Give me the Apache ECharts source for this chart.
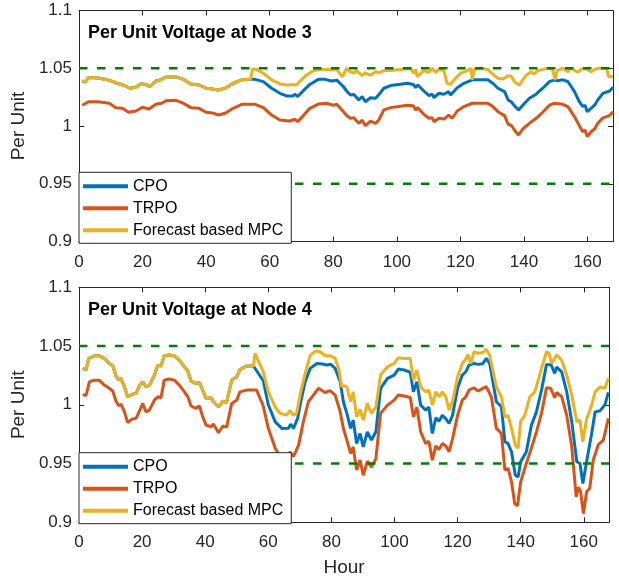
<!DOCTYPE html>
<html><head><meta charset="utf-8">
<script src="https://cdn.jsdelivr.net/npm/echarts@6/dist/echarts.min.js"></script>
<style>html,body{margin:0;padding:0;background:#fff}#c{width:619px;height:580px}</style>
</head><body><div id="c"></div><script>
// ---------- data ----------
const seriesNames = ['CPO', 'TRPO', 'Forecast based MPC'];
const plotTitles = ['Per Unit Voltage at Node 3', 'Per Unit Voltage at Node 4'];
const xTicks = [0, 20, 40, 60, 80, 100, 120, 140, 160];
const yTicks = [0.9, 0.95, 1, 1.05, 1.1];
const limitHours = [0, 168];
const upperLimit = 1.05;
const lowerLimit = 0.95;

const node3CPO = [[1,1.039],[2,1.038],[3,1.042],[6,1.0415],[9,1.040],[10,1.039],[12,1.037],[14,1.0355],[16,1.0327],[18,1.0338],[19.5,1.0367],[21,1.036],[22.3,1.034],[24.2,1.039],[25.8,1.040],[27.4,1.0425],[30.5,1.0425],[32.6,1.0407],[35.2,1.0364],[37.8,1.0355],[40,1.0327],[42,1.032],[43.8,1.0312],[46,1.0327],[48.5,1.037],[51.2,1.040],[54,1.0404],[55.4,1.0404],[58,1.0384],[60.6,1.0327],[63.2,1.0283],[65.3,1.026],[67.2,1.026],[68,1.0275],[68.8,1.0255],[70.6,1.0306],[72.6,1.036],[75.3,1.0404],[77.4,1.0404],[79.5,1.039],[81.1,1.0397],[83.2,1.034],[84.2,1.0303],[85.4,1.0269],[86.5,1.0272],[88,1.0225],[89.1,1.0254],[90.1,1.021],[91.7,1.0245],[93.3,1.024],[94.3,1.027],[95.9,1.0327],[98,1.035],[100.6,1.036],[103.3,1.037],[105.2,1.036],[105.9,1.0332],[106.6,1.0355],[108.5,1.0303],[110.1,1.0263],[111.1,1.0275],[111.7,1.0245],[113.2,1.0283],[114.8,1.0275],[116.3,1.0297],[116.9,1.0269],[119,1.0332],[121.1,1.037],[123.7,1.040],[126.3,1.040],[128.6,1.040],[130.2,1.037],[131.8,1.0327],[133.9,1.0297],[135,1.0225],[136,1.021],[137.2,1.0168],[138.3,1.0139],[139.6,1.018],[141.7,1.024],[143.8,1.0275],[145.9,1.0327],[148,1.0384],[149.6,1.040],[150.6,1.0392],[152.2,1.040],[153.8,1.0385],[155.9,1.0297],[157.4,1.021],[158.5,1.0168],[159.2,1.018],[159.9,1.0124],[161.1,1.0153],[162.2,1.018],[163.2,1.0225],[164.8,1.0283],[166.9,1.0303],[168,1.0335]];

const node3TRPO = [[1,1.018],[3,1.021],[6,1.021],[9.5,1.0197],[11.6,1.0159],[13.7,1.0153],[15.6,1.0119],[17.9,1.013],[20,1.0162],[22,1.0147],[24.2,1.0188],[26,1.0197],[27.4,1.0219],[30.5,1.0222],[32.6,1.020],[35.2,1.0159],[37.8,1.0153],[40,1.0119],[42,1.0113],[43.8,1.0095],[46,1.011],[48.5,1.0153],[51.2,1.0188],[55.4,1.0188],[58,1.0159],[60.6,1.0095],[63.2,1.0052],[66.3,1.0043],[68,1.0058],[68.8,1.0038],[70.6,1.009],[72.6,1.0153],[75.3,1.019],[77.9,1.0197],[80,1.018],[81.1,1.0188],[83.2,1.0124],[84.2,1.009],[85.4,1.0067],[86.5,1.0072],[88,1.0023],[89.1,1.005],[90.1,1.0003],[91.7,1.0043],[93.3,1.0023],[94.3,1.0052],[95.9,1.0139],[98,1.0159],[100.6,1.0168],[103.3,1.018],[105.2,1.0175],[105.9,1.0139],[106.6,1.0159],[108.5,1.0101],[110.1,1.0067],[111.1,1.0072],[111.7,1.0037],[113.2,1.0067],[114.8,1.006],[116.3,1.0095],[117.4,1.0067],[119,1.013],[121.1,1.0168],[123.7,1.0197],[126.3,1.0197],[128.6,1.0197],[130.2,1.0168],[131.8,1.0124],[133.9,1.009],[135,1.0015],[136,1.0005],[137.2,0.9957],[138.3,0.9922],[139.6,0.9974],[141.7,1.0023],[143.8,1.0067],[145.9,1.0119],[148,1.018],[149.6,1.0197],[152.2,1.0188],[153.8,1.0168],[155.9,1.008],[157.4,1.0003],[158.5,0.995],[159.2,0.9965],[159.9,0.9908],[161.1,0.995],[162.2,0.9974],[163.2,1.0023],[164.8,1.007],[166.9,1.009],[168,1.0124]];

const node3MPC = [[1,1.039],[2,1.038],[3,1.042],[6,1.0415],[9,1.040],[10,1.039],[12,1.037],[14,1.0355],[16,1.0327],[18,1.0338],[19.5,1.0367],[21,1.036],[22.3,1.034],[24.2,1.039],[25.8,1.040],[27.4,1.0425],[30.5,1.0425],[32.6,1.0407],[35.2,1.0364],[37.8,1.0355],[40,1.0327],[42,1.032],[43.8,1.0312],[46,1.0327],[48.5,1.037],[51.2,1.040],[54,1.0404],[54.6,1.0494],[55.9,1.049],[58,1.0457],[60.6,1.040],[63.2,1.0364],[65.3,1.0355],[67.2,1.036],[68.3,1.0355],[70,1.040],[71.6,1.0442],[73.7,1.0477],[75.8,1.049],[79,1.049],[81.1,1.0488],[82.9,1.0427],[84.2,1.050],[85,1.0475],[86.5,1.0457],[87.3,1.048],[89.1,1.0436],[90,1.046],[91.7,1.044],[93.3,1.047],[94.3,1.046],[95.9,1.048],[98,1.048],[101.2,1.049],[104.3,1.050],[105.3,1.0457],[105.9,1.049],[106.4,1.0427],[108.5,1.048],[110,1.0465],[111.1,1.050],[112.2,1.0465],[113.2,1.049],[114.8,1.048],[115.8,1.037],[116.9,1.036],[118.4,1.0413],[120.1,1.0457],[122.2,1.048],[123.3,1.050],[123.7,1.040],[124.4,1.049],[126.3,1.050],[128.6,1.049],[130.2,1.0448],[131.8,1.0413],[133.4,1.0407],[135,1.0436],[136,1.043],[137.2,1.0378],[138.6,1.0355],[139.6,1.040],[140.6,1.0436],[142.2,1.047],[143.2,1.045],[144.3,1.048],[146,1.049],[147.5,1.050],[149,1.049],[149.8,1.040],[150.4,1.048],[152.2,1.050],[153.8,1.047],[154.7,1.050],[156,1.048],[157,1.0465],[157.9,1.049],[159,1.050],[161.1,1.047],[162.2,1.049],[163.5,1.050],[166,1.050],[166.6,1.0427],[168,1.043]];

const node4CPO = [[1.2,1.031],[2.2,1.0296],[3.1,1.0395],[4.9,1.0417],[6.4,1.0417],[8,1.0395],[9.6,1.0352],[10.7,1.0332],[11.7,1.0247],[12.6,1.021],[13.3,1.0225],[14.4,1.0153],[15.4,1.0068],[16.8,1.0089],[18.1,1.0098],[19.3,1.0168],[20.2,1.0196],[21.2,1.0153],[22.3,1.0165],[23.9,1.0253],[25,1.0338],[26,1.033],[27,1.0417],[28.6,1.0423],[30.2,1.0417],[31.8,1.038],[33.4,1.0324],[34.5,1.0287],[35.5,1.0202],[36.9,1.0182],[38.2,1.019],[39.2,1.0125],[40.3,1.0054],[41.9,1.006],[42.6,1.0026],[44.2,0.9983],[45.6,1.003],[46.8,1.002],[48.4,1.021],[50,1.0239],[51,1.030],[53.2,1.033],[55.3,1.033],[55.8,1.033],[58.4,1.0205],[60,1.0],[62.2,0.9855],[64.3,0.9799],[66.4,0.98],[67.1,0.9836],[68,0.98],[69.3,0.9884],[70.3,1.0026],[71.7,1.0196],[73.3,1.031],[75.4,1.0352],[77,1.0348],[78.6,1.0338],[79.8,1.0345],[81.2,1.031],[82.8,1.0196],[83.8,1.0026],[84.9,0.9927],[86.1,0.9799],[86.9,0.987],[88,0.967],[89.1,0.9756],[90.1,0.9642],[91.4,0.977],[92.7,0.970],[94.1,0.977],[95.6,1.014],[97.8,1.0225],[99.9,1.0253],[101.2,1.0304],[103.1,1.0296],[105,1.0276],[106,1.011],[107.1,1.0196],[108.3,0.9997],[109.9,0.9955],[110.9,0.998],[112,0.9756],[113.1,0.989],[114.1,0.986],[115.2,0.991],[116.3,0.988],[117.3,0.9841],[118.4,0.991],[120,1.014],[121.5,1.0253],[122.6,1.0281],[123.6,1.0338],[125.2,1.0352],[126.5,1.0344],[128,1.035],[129.1,1.0395],[130.2,1.035],[132.3,1.0026],[133.9,0.9983],[135,0.9685],[136,0.967],[137.1,0.96],[138.3,0.940],[139.2,0.9387],[140,0.9515],[141.8,0.96],[143.4,0.9827],[145,0.994],[146.6,1.0125],[148.2,1.0344],[149.7,1.0338],[150.8,1.0267],[151.4,1.032],[153,1.028],[154.6,1.011],[156.2,0.9855],[157.8,0.9515],[158.8,0.950],[159.7,0.933],[160.9,0.9515],[162.5,0.9756],[163.6,0.994],[165.2,0.995],[166.7,1.0],[167.8,1.0105]];

const node4TRPO = [[1.2,1.0089],[2.2,1.0077],[3.3,1.0196],[4.9,1.021],[6.4,1.021],[8,1.0168],[9.6,1.014],[10.7,1.0117],[11.7,1.0032],[12.6,0.9992],[13.3,1.0005],[14.4,0.994],[15.4,0.985],[16.8,0.9878],[18.1,0.9885],[19.3,0.9955],[20.2,1.0012],[21.2,0.994],[22.3,0.9955],[23.9,1.004],[25,1.0068],[26,1.006],[27,1.021],[28.6,1.0219],[30.2,1.021],[31.8,1.0168],[33.4,1.011],[34.5,1.0068],[35.5,0.9992],[36.9,0.997],[38.2,0.999],[39.2,0.9898],[40.3,0.9827],[41.9,0.9813],[42.6,0.9836],[44.2,0.9762],[45.6,0.982],[46.8,0.981],[48.4,1.0012],[50,1.004],[51,1.011],[53.2,1.0125],[56.3,1.0125],[58.4,0.999],[60,0.980],[62.2,0.963],[64,0.955],[65.9,0.952],[66.9,0.96],[68,0.956],[69.6,0.9657],[71.1,0.9855],[72.7,1.0026],[74.3,1.0083],[75.9,1.014],[78,1.0105],[79.6,1.012],[81.2,1.0083],[82.8,0.994],[83.8,0.9799],[84.9,0.970],[86.1,0.9586],[86.9,0.9642],[88,0.9444],[89.1,0.953],[90.1,0.940],[91.4,0.952],[92.7,0.947],[94.1,0.954],[95.6,0.9927],[97.8,0.9997],[99.9,1.004],[101.2,1.0083],[103.1,1.0075],[105,1.0062],[106,0.9898],[107.1,0.998],[108.3,0.977],[109.9,0.967],[110.9,0.969],[112,0.9529],[113.1,0.965],[114.1,0.962],[115.2,0.967],[116.3,0.965],[117.3,0.960],[118.4,0.971],[120,0.991],[121.5,1.004],[122.6,1.0068],[123.6,1.0125],[125.2,1.0145],[126.5,1.0117],[128,1.014],[129.1,1.0155],[130.7,1.0068],[132.3,0.9799],[133.9,0.9756],[135,0.9444],[136,0.946],[137.1,0.9344],[138.1,0.916],[139,0.914],[140,0.9344],[141.8,0.95],[143.4,0.963],[145,0.977],[146.6,0.9927],[148.2,1.0145],[149.5,1.014],[150.8,1.006],[151.4,1.0105],[153,1.007],[154.6,0.991],[156.2,0.9642],[157.6,0.9216],[158.3,0.930],[159,0.926],[159.9,0.9075],[160.9,0.926],[161.9,0.929],[163,0.953],[164.6,0.966],[166.2,0.970],[167.8,0.9884]];

const node4MPC = [[1.2,1.031],[2.2,1.0296],[3.1,1.0395],[4.9,1.0417],[6.4,1.0417],[8,1.0395],[9.6,1.0352],[10.7,1.0332],[11.7,1.0247],[12.6,1.021],[13.3,1.0225],[14.4,1.0153],[15.4,1.0068],[16.8,1.0089],[18.1,1.0098],[19.3,1.0168],[20.2,1.0196],[21.2,1.0153],[22.3,1.0165],[23.9,1.0253],[25,1.0338],[26,1.033],[27,1.0417],[28.6,1.0423],[30.2,1.0417],[31.8,1.038],[33.4,1.0324],[34.5,1.0287],[35.5,1.0202],[36.9,1.0182],[38.2,1.019],[39.2,1.0125],[40.3,1.0054],[41.9,1.006],[42.6,1.0026],[44.2,0.9983],[45.6,1.003],[46.8,1.002],[48.4,1.021],[50,1.0239],[51,1.030],[53.2,1.033],[55.3,1.033],[55.8,1.0438],[56.3,1.0435],[58.4,1.0281],[60,1.011],[62.2,0.9983],[63.7,0.9927],[65.8,0.9912],[66.9,0.995],[68,0.991],[69,0.993],[70.3,1.011],[71.7,1.0267],[73.3,1.0423],[74.9,1.0457],[76.4,1.0452],[78,1.0417],[79.6,1.0417],[81.2,1.0395],[82.3,1.031],[83.3,1.0153],[84,1.0162],[84.9,1.0153],[86.1,1.0026],[86.9,1.0111],[88,0.9898],[89.1,0.996],[90.1,0.987],[91.4,1.0012],[92.7,0.9927],[94.1,0.998],[95.6,1.0253],[97.8,1.0324],[99.9,1.0352],[101.2,1.04],[103.1,1.0395],[105,1.0395],[106,1.021],[107.1,1.0296],[108.3,1.0153],[109.9,1.011],[110.9,1.0125],[112,0.9997],[113.1,1.0111],[114.1,1.0068],[115.2,1.011],[116.3,1.0068],[117.3,0.9955],[118.4,1.0026],[120,1.0239],[121.5,1.0352],[122.6,1.039],[123.3,1.0427],[124.2,1.0352],[125.2,1.0452],[126.5,1.0438],[128,1.0445],[129.1,1.0474],[130.2,1.042],[132.3,1.0153],[133.9,1.0068],[135,0.9898],[136,0.991],[137.1,0.9799],[138.3,0.9657],[139.2,0.9629],[140,0.986],[141.3,0.991],[142.9,1.0068],[144.5,1.011],[146.6,1.031],[148.2,1.0452],[149,1.0438],[149.8,1.0352],[151.4,1.0423],[153,1.038],[154.6,1.0253],[156.2,1.0083],[157.8,0.9855],[158.8,0.987],[159.7,0.9685],[160.9,0.988],[162.5,0.9997],[163.6,1.011],[165.2,1.0153],[166.7,1.014],[167.8,1.0225]];

// ---------- styling ----------
const FONT = '"Liberation Sans", Arial, Helvetica, sans-serif';
const AX = '#262626';
const COLORS = ['#0072BD', '#D95319', '#EDB120'];
const LIMIT_COLOR = '#008000';

const grids = [
  {left: 79, top: 10.5, width: 534, height: 231},
  {left: 79, top: 287.3, width: 530, height: 235}
];

function xAxes(gi) {
  const base = {
    type: 'value', gridIndex: gi, min: 0, max: 168,
    splitLine: {show: false},
    axisLine: {show: true, onZero: false, lineStyle: {color: AX, width: 1}},
    axisTick: {show: true, inside: true, length: 5, customValues: xTicks, lineStyle: {color: AX}},
  };
  return [
    Object.assign({}, base, {
      position: 'bottom',
      axisLabel: {show: true, customValues: xTicks, fontFamily: FONT, fontSize: 17, color: AX, margin: 12},
      name: gi === 1 ? 'Hour' : '', nameLocation: 'middle', nameGap: 36,
      nameTextStyle: {fontFamily: FONT, fontSize: 19, color: AX}
    }),
    Object.assign({}, base, {position: 'top', axisLabel: {show: false}})
  ];
}
function yAxes(gi) {
  const base = {
    type: 'value', gridIndex: gi, min: 0.9, max: 1.1,
    splitLine: {show: false},
    axisLine: {show: true, onZero: false, lineStyle: {color: AX, width: 1}},
    axisTick: {show: true, inside: true, length: 5, customValues: yTicks, lineStyle: {color: AX}},
  };
  return [
    Object.assign({}, base, {
      position: 'left',
      axisLabel: {show: true, customValues: yTicks, fontFamily: FONT, fontSize: 17, color: AX, margin: 7},
      name: 'Per Unit', nameLocation: 'middle', nameGap: 39,
      nameTextStyle: {fontFamily: FONT, fontSize: 19, color: AX}
    }),
    Object.assign({}, base, {position: 'right', axisLabel: {show: false}})
  ];
}

const xAxis = [].concat(xAxes(0), xAxes(1));
const yAxis = [].concat(yAxes(0), yAxes(1));

const plotData = [[node3CPO, node3TRPO, node3MPC], [node4CPO, node4TRPO, node4MPC]];
const series = [];
plotData.forEach((sets, gi) => {
  sets.forEach((d, si) => {
    series.push({
      type: 'line', name: seriesNames[si], data: d,
      xAxisIndex: gi * 2, yAxisIndex: gi * 2,
      symbol: 'none', showSymbol: false, animation: false,
      lineStyle: {color: COLORS[si], width: 3},
      itemStyle: {color: COLORS[si]}, z: 2
    });
  });
  [upperLimit, lowerLimit].forEach(v => {
    series.push({
      type: 'line', name: 'limit', data: limitHours.map(h => [h, v]),
      xAxisIndex: gi * 2, yAxisIndex: gi * 2,
      symbol: 'none', showSymbol: false, animation: false, silent: true,
      lineStyle: {color: LIMIT_COLOR, width: 2.6, type: [8.5, 9.5], cap: 'butt'}, z: 3
    });
  });
});

const legendTops = [172.3, 452.7];
const legend = legendTops.map(t => ({
  data: seriesNames.map(n => ({name: n, icon: 'rect'})),
  orient: 'vertical', left: 79, top: t,
  itemWidth: 45, itemHeight: 4, itemGap: 4,
  padding: [5, 8, 4, 4],
  backgroundColor: '#ffffff', borderColor: AX, borderWidth: 1, borderRadius: 0,
  textStyle: {fontFamily: FONT, fontSize: 16, color: '#000', lineHeight: 18},
  selectedMode: false, z: 10
}));

const title = plotTitles.map((t, i) => ({
  text: t, left: 88, top: i === 0 ? 24 : 301, padding: 0,
  textStyle: {fontFamily: FONT, fontSize: 18, fontWeight: 'bold', color: '#000'}
}));

const chart = echarts.init(document.getElementById('c'), null, {renderer: 'canvas'});
chart.setOption({
  backgroundColor: '#ffffff', animation: false,
  grid: grids, xAxis, yAxis, series, legend, title
});
</script></body></html>
